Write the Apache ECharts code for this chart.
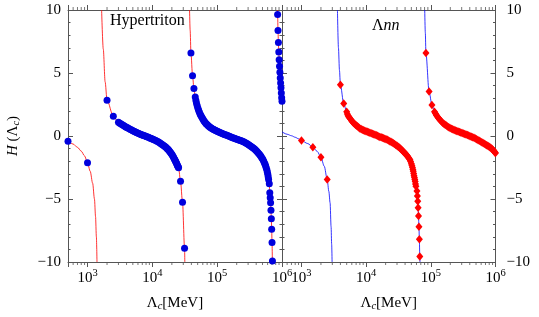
<!DOCTYPE html>
<html>
<head>
<meta charset="utf-8">
<script src="https://cdn.jsdelivr.net/npm/echarts@6/dist/echarts.min.js"></script>
<style>
html,body{margin:0;padding:0;background:#fff;}
#c{width:539px;height:317px;}
</style>
</head>
<body>
<div id="c"></div>
<script>
// ---------------- data ----------------
const xMin = 500, xMax = 1000000;
const yTicks = [-10, -5, 0, 5, 10];
const xMinorTicks = [600,700,800,900,2000,3000,4000,5000,6000,7000,8000,9000,
  20000,30000,40000,50000,60000,70000,80000,90000,
  200000,300000,400000,500000,600000,700000,800000,900000];

// Hypertriton panel: blue dots, red curve
const hypLine1 = [[500,-0.41],[600,-0.64],[700,-0.9],[800,-1.2],[900,-1.58],[1000,-2.12],[1100,-2.8],[1200,-3.75],[1280,-5.0],[1330,-6.4],[1370,-8.0],[1400,-10]];
const hypDots1 = [[500,-0.41],[1000,-2.12]];

const hypHead2 = [[1650,10],[1750,6.9],[1870,4.3]];
const hypDots2 = [[2000,2.84],[2500,1.57],[3000,1.09],[3150,1.02],[3300,0.95],[3450,0.89],[3600,0.83],[3750,0.77],[3900,0.72],
  [4050,0.67],[4200,0.63],[4400,0.57],[4600,0.52],[4800,0.47],[5000,0.42],[5200,0.37],[5400,0.33],[5600,0.29],[5800,0.25],
  [6050,0.21],[6300,0.17],[6550,0.13],[6800,0.10],[7050,0.07],[7300,0.04],[7600,0.01],[7900,-0.02],[8200,-0.05],[8500,-0.08],
  [8900,-0.12],[9300,-0.17],[9650,-0.2],[10000,-0.24],[10400,-0.27],[10800,-0.31],[11300,-0.36],[11800,-0.41],[12300,-0.46],
  [12800,-0.52],[13300,-0.57],[13800,-0.63],[14350,-0.69],[14900,-0.75],[15450,-0.81],[16000,-0.88],[16500,-0.94],[17000,-1.01],
  [17400,-1.06],[17800,-1.12],[18300,-1.19],[18800,-1.27],[19300,-1.35],[19800,-1.43],[20300,-1.51],[20800,-1.60],[21300,-1.70],
  [21800,-1.80],[22200,-1.88],[22600,-1.97],[23000,-2.04],[23400,-2.12],[23800,-2.21],[24200,-2.30],[24600,-2.38],[25000,-2.45],
  [25400,-2.52],[27200,-3.6],[29200,-5.25],[31400,-8.9]];
const hypTail2 = [[31700,-10]];

const hypHead3 = [[37500,10],[38300,8.4]];
const hypDots3 = [[39400,6.59],[41700,4.79],[43800,3.76],[45900,3.1],[47000,2.82],[48000,2.6],[49200,2.4],[50500,2.2],
  [51700,2.04],[53000,1.9],[54500,1.75],[56000,1.62],[57700,1.5],[59500,1.38],[61200,1.28],[63000,1.18],[65000,1.09],
  [67000,1.0],[69200,0.93],[71500,0.86],[73700,0.8],[76000,0.74],[78500,0.68],[81000,0.63],[84000,0.58],[87000,0.53],
  [90000,0.49],[93000,0.45],[96500,0.41],[100000,0.37],[104000,0.33],[108000,0.29],[112500,0.25],[117000,0.21],[122000,0.17],
  [127000,0.14],[132500,0.1],[138000,0.07],[144000,0.03],[150000,0.0],[156500,-0.03],[163000,-0.07],[170000,-0.11],
  [177000,-0.15],[184500,-0.18],[192000,-0.22],[200000,-0.25],[208000,-0.28],[217000,-0.31],[226000,-0.35],[235500,-0.38],
  [245000,-0.42],[255000,-0.46],[265000,-0.5],[276000,-0.55],[287000,-0.6],[298500,-0.65],[310000,-0.71],[322500,-0.77],
  [335000,-0.83],[347500,-0.89],[360000,-0.95],[374000,-1.02],[388000,-1.1],[401500,-1.17],[415000,-1.25],[430000,-1.34],
  [445000,-1.43],[460000,-1.53],[475000,-1.63],[490000,-1.74],[505000,-1.85],[520000,-1.98],[535000,-2.12],[548000,-2.25],
  [560000,-2.38],[572000,-2.53],[585000,-2.7],[595000,-2.87],[605000,-3.05],[613000,-3.25],[621000,-3.45],
  [637000,-3.79],[648000,-4.5],[658000,-4.9],[667000,-5.3],[676000,-5.9],[685000,-6.56],[693000,-7.41],[702000,-8.46],[712000,-9.92]];
const hypTail3 = [[714000,-10]];

const hypHead4 = [[850000,10]];
const hypDots4 = [[856000,9.65],[868000,8.38],[880000,7.43],[892000,6.67],[904000,6.06],[916000,5.53],[928000,5.06],
  [940000,4.61],[952000,4.2],[964000,3.82],[976000,3.42],[988000,3.03],[1000000,2.76]];

// Λnn panel: red diamonds, blue curve
const lnnLine1 = [[500,0.33],[600,0.14],[700,0.02],[800,-0.1],[900,-0.22],[1000,-0.36],[1250,-0.6],[1500,-0.89],
  [1750,-1.22],[2000,-1.68],[2250,-2.4],[2500,-3.45],[2650,-4.4],[2770,-5.3],[2870,-7.2],[2930,-8.6],[2975,-10]];
const lnnDots1 = [[1000,-0.36],[1500,-0.89],[2000,-1.68],[2500,-3.45]];

const lnnHead2 = [[3600,10],[3730,7.0],[3870,5.2]];
const lnnDots2 = [[4000,4.06],[4500,2.58],[5000,1.92],[5120,1.75],[5250,1.6],[5420,1.5],[5600,1.4],[5800,1.3],[6000,1.2],
  [6200,1.11],[6400,1.03],[6650,0.95],[6900,0.88],[7150,0.81],[7400,0.75],[7700,0.67],[8000,0.6],[8350,0.55],[8700,0.5],
  [9100,0.45],[9500,0.41],[9950,0.37],[10400,0.33],[10900,0.29],[11400,0.25],[11950,0.21],[12500,0.17],[13100,0.13],
  [13700,0.09],[14350,0.05],[15000,0.01],[15650,-0.03],[16300,-0.07],[17050,-0.1],[17800,-0.14],[18600,-0.18],[19400,-0.22],
  [20300,-0.26],[21200,-0.3],[22200,-0.35],[23200,-0.41],[24200,-0.46],[25200,-0.52],[26300,-0.58],[27500,-0.64],[28700,-0.71],
  [30000,-0.78],[31200,-0.85],[32500,-0.92],[33700,-1.0],[35000,-1.08],[36200,-1.16],[37500,-1.24],[38700,-1.31],[40000,-1.38],
  [41200,-1.45],[42500,-1.52],[43700,-1.61],[45000,-1.7],[46200,-1.79],[47500,-1.88],[48700,-2.03],[50000,-2.2],[51000,-2.35],
  [52000,-2.5],[52800,-2.65],[53500,-2.8],[54300,-2.97],[55000,-3.15],[55800,-3.3],[56500,-3.45],[57300,-3.62],[58000,-3.8],
  [58800,-3.98],[61000,-4.37],[62000,-4.77],[62800,-5.17],[63600,-5.69],[64500,-6.35],[65500,-7.2],[66500,-8.2],[67500,-9.57]];
const lnnTail2 = [[68000,-10]];

const lnnHead3 = [[80500,10],[82200,8.2]];
const lnnDots3 = [[84000,6.59],[94000,3.53],[104000,2.47],[114000,1.92],[118000,1.78],[122000,1.65],[126000,1.54],[130000,1.44],
  [135000,1.34],[140000,1.25],[146000,1.15],[152000,1.06],[159000,0.98],[166000,0.9],[173500,0.83],[181000,0.76],[189500,0.7],
  [198000,0.64],[208000,0.58],[218000,0.53],[229000,0.48],[240000,0.44],[252000,0.39],[264000,0.35],[277000,0.31],[290000,0.27],
  [304000,0.23],[318000,0.19],[334000,0.15],[350000,0.11],[367000,0.07],[385000,0.03],[404000,-0.01],[423000,-0.06],[444000,-0.1],
  [465000,-0.14],[487000,-0.19],[510000,-0.25],[535000,-0.31],[560000,-0.37],[587000,-0.43],[615000,-0.5],[642000,-0.56],
  [670000,-0.62],[700000,-0.68],[730000,-0.74],[760000,-0.78],[790000,-0.83],[820000,-0.89],[850000,-0.95],[880000,-1.02],
  [910000,-1.1],[935000,-1.17],[960000,-1.24],[980000,-1.3],[1000000,-1.35]];

// ---------------- chart ----------------
const SERIF = "'Liberation Serif', 'DejaVu Serif', serif";
const AX = '#555';
const RED = '#ff0000', BLUE = '#0000ff', DOT = '#0000dd';

function xLabel(v){
  const e = Math.log10(v), r = Math.round(e);
  if (Math.abs(e - r) > 1e-6) return '';
  return '{b|10}{sup|' + r + '}';
}
function yLabel(v){ return v < 0 ? '\u2212' + (-v) : '' + v; }

const xRich = {
  b: {fontFamily: SERIF, fontSize: 15, color: '#000'},
  sup: {fontFamily: SERIF, fontSize: 10.5, color: '#000', padding: [0,0,9,0]}
};

function xAxisBottom(grid){
  return {
    type: 'log', gridIndex: grid, min: xMin, max: xMax, position: 'bottom',
    axisLine: {show: true, onZero: false, lineStyle: {color: AX, width: 1}},
    axisTick: {show: true, inside: false, length: 5, lineStyle: {color: AX}},
    axisLabel: {formatter: xLabel, rich: xRich, margin: 6, showMinLabel: true, showMaxLabel: true},
    splitLine: {show: false},
    name: '\u039B{s|c}[MeV]', nameLocation: 'middle', nameGap: 32,
    nameTextStyle: {fontFamily: SERIF, fontSize: 15, color: '#000',
      rich: {s: {fontFamily: SERIF, fontSize: 10.5, fontStyle: 'italic', color: '#000', padding: [7,0,0,0]}}}
  };
}
function xAxisTop(grid){
  return {
    type: 'log', gridIndex: grid, min: xMin, max: xMax, position: 'top',
    axisLine: {show: true, onZero: false, lineStyle: {color: AX, width: 1}},
    axisTick: {show: true, inside: false, length: 5, lineStyle: {color: AX}},
    axisLabel: {show: false}, splitLine: {show: false}
  };
}
function yAxis(grid, pos, labels){
  return {
    type: 'value', gridIndex: grid, min: -10, max: 10, interval: 5, position: pos,
    axisLine: {show: true, onZero: false, lineStyle: {color: AX, width: 1}},
    axisTick: {show: true, inside: true, length: 5, lineStyle: {color: AX}},
    minorTick: {show: true, splitNumber: 5, length: 2.5, lineStyle: {color: AX}},
    splitLine: {show: false},
    axisLabel: {show: labels, formatter: yLabel, fontFamily: SERIF, fontSize: 15, color: '#000',
      margin: pos === 'left' ? 7 : 11, align: pos === 'left' ? 'right' : 'left'}
  };
}

const yAxes = [yAxis(0,'left',true), yAxis(0,'right',false), yAxis(1,'right',true), yAxis(1,'left',false)];
yAxes[0].name = '{i|H} (\u039B{s|c})';
yAxes[0].nameLocation = 'middle';
yAxes[0].nameGap = 46;
yAxes[0].nameTextStyle = {fontFamily: SERIF, fontSize: 15, color: '#000',
  rich: {i: {fontFamily: SERIF, fontSize: 15, fontStyle: 'italic', color: '#000'},
         s: {fontFamily: SERIF, fontSize: 10.5, fontStyle: 'italic', color: '#000', padding: [7,0,0,0]}}};

const series = [];
function addLine(xi, yi, data, color){
  series.push({type: 'line', xAxisIndex: xi, yAxisIndex: yi, data: data, showSymbol: false, symbol: 'none',
    smooth: 0.3, smoothMonotone: 'x', lineStyle: {color: color, width: 0.8}, z: 2, silent: true, animation: false});
}
function addDots(xi, yi, data, symbol, size, color){
  series.push({type: 'scatter', xAxisIndex: xi, yAxisIndex: yi, data: data, symbol: symbol, symbolSize: size,
    itemStyle: {color: color, opacity: 1}, clip: false, z: 3, silent: true, animation: false});
}

// Hypertriton (grid 0: xAxis 0, yAxis 0)
addLine(0, 0, hypLine1, RED);
addLine(0, 0, hypHead2.concat(hypDots2, hypTail2), RED);
addLine(0, 0, hypHead3.concat(hypDots3, hypTail3), RED);
addLine(0, 0, hypHead4.concat(hypDots4), RED);
[hypDots1, hypDots2, hypDots3, hypDots4].forEach(d => addDots(0, 0, d, 'circle', 7, DOT));

// Λnn (grid 1: xAxis 2, yAxis 2)
addLine(2, 2, lnnLine1, BLUE);
addLine(2, 2, lnnHead2.concat(lnnDots2, lnnTail2), BLUE);
addLine(2, 2, lnnHead3.concat(lnnDots3), BLUE);
[lnnDots1, lnnDots2, lnnDots3].forEach(d => addDots(2, 2, d, 'diamond', [7, 8.5], RED));

// minor ticks on the log x axes (drawn through the axis scales)
[[0,0],[2,2]].forEach(([xi, yi]) => {
  series.push({type: 'scatter', xAxisIndex: xi, yAxisIndex: yi, data: xMinorTicks.map(v => [v, -10]),
    symbol: 'rect', symbolSize: [1, 3], symbolOffset: [0, 1.5], itemStyle: {color: AX}, clip: false, silent: true, z: 1, animation: false});
  series.push({type: 'scatter', xAxisIndex: xi, yAxisIndex: yi, data: xMinorTicks.map(v => [v, 10]),
    symbol: 'rect', symbolSize: [1, 3], symbolOffset: [0, -1.5], itemStyle: {color: AX}, clip: false, silent: true, z: 1, animation: false});
});

const chart = echarts.init(document.getElementById('c'), null, {renderer: 'canvas'});
chart.setOption({
  animation: false,
  backgroundColor: '#fff',
  title: [
    {text: 'Hypertriton', left: 110, top: 13, padding: 0,
      textStyle: {fontFamily: SERIF, fontSize: 16, fontWeight: 'normal', color: '#000'}},
    {text: '\u039B{i|nn}', left: 372, top: 18, padding: 0,
      textStyle: {fontFamily: SERIF, fontSize: 16, fontWeight: 'normal', color: '#000',
        rich: {i: {fontFamily: SERIF, fontSize: 16, fontStyle: 'italic', color: '#000'}}}}
  ],
  grid: [
    {left: 68, top: 10, width: 214, height: 252},
    {left: 282, top: 10, width: 213.5, height: 252}
  ],
  xAxis: [xAxisBottom(0), xAxisTop(0), xAxisBottom(1), xAxisTop(1)],
  yAxis: yAxes,
  series: series
});
</script>
</body>
</html>
